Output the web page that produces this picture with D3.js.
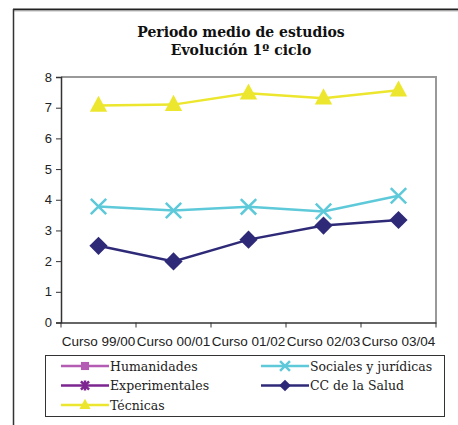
<!DOCTYPE html>
<html>
<head>
<meta charset="utf-8">
<script src="https://cdn.jsdelivr.net/npm/d3@7"></script>
<style>
  body { margin: 0; background: #fff; }
  svg { display: block; }
</style>
</head>
<body>
<svg id="chart" width="458" height="425"></svg>
<script>
// datos
const cursos = ['Curso 99/00', 'Curso 00/01', 'Curso 01/02', 'Curso 02/03', 'Curso 03/04'];
const humanidades = [];
const sociales = [3.78, 3.65, 3.77, 3.62, 4.13];
const experimentales = [];
const salud = [2.5, 1.99, 2.7, 3.16, 3.34];
const tecnicas = [7.07, 7.1, 7.47, 7.31, 7.57];
const yTicks = [0, 1, 2, 3, 4, 5, 6, 7, 8];

const series = [
  { name: 'Humanidades', values: humanidades, color: '#b45cb4', marker: 'square' },
  { name: 'Sociales y jurídicas', values: sociales, color: '#5ec9d9', marker: 'x' },
  { name: 'Experimentales', values: experimentales, color: '#7d2590', marker: 'star' },
  { name: 'CC de la Salud', values: salud, color: '#2e2a78', marker: 'diamond' },
  { name: 'Técnicas', values: tecnicas, color: '#ece72e', marker: 'triangle' }
];

const svg = d3.select('#chart');
const plotL = 61, plotR = 436, plotT = 77, plotB = 322.5;

// marco exterior (solo arriba e izquierda)
svg.append('line').attr('x1', 13).attr('x2', 458).attr('y1', 9.5).attr('y2', 9.5)
  .attr('stroke', '#222').attr('stroke-width', 2);
svg.append('line').attr('x1', 13).attr('x2', 458).attr('y1', 11).attr('y2', 11)
  .attr('stroke', '#bbb').attr('stroke-width', 1);
svg.append('line').attr('x1', 13.5).attr('x2', 13.5).attr('y1', 9).attr('y2', 425)
  .attr('stroke', '#333').attr('stroke-width', 1.5);

svg.append('text')
  .attr('x', 241).attr('y', 36.5)
  .attr('text-anchor', 'middle')
  .attr('font-family', 'DejaVu Serif')
  .attr('font-weight', 'bold')
  .attr('font-size', 14)
  .attr('fill', '#111')
  .text('Periodo medio de estudios');
svg.append('text')
  .attr('x', 241).attr('y', 55)
  .attr('text-anchor', 'middle')
  .attr('font-family', 'DejaVu Serif')
  .attr('font-weight', 'bold')
  .attr('font-size', 14)
  .attr('fill', '#111')
  .text('Evolución 1º ciclo');

const x = d3.scaleBand().domain(cursos).range([plotL, plotR]);
const y = d3.scaleLinear().domain([0, 8]).range([plotB, plotT]);

// borde gris del área de trazado
svg.append('path')
  .attr('d', `M${plotL},${plotT}H${plotR}V${plotB}`)
  .attr('fill', 'none').attr('stroke', '#999').attr('stroke-width', 2);

svg.append('g')
  .attr('transform', `translate(${plotL},0)`)
  .call(d3.axisLeft(y).tickValues(yTicks).tickSize(5).tickPadding(4).tickFormat(d3.format('d')))
  .call(g => g.selectAll('.domain').attr('stroke', '#333').attr('stroke-width', 1.5))
  .call(g => g.selectAll('.tick line').attr('stroke', '#333'))
  .call(g => g.selectAll('text').attr('font-family', 'Liberation Sans').attr('font-size', 13).attr('fill', '#222'));

const xAxis = svg.append('g')
  .attr('transform', `translate(0,${plotB})`)
  .call(d3.axisBottom(x).tickSize(0).tickPadding(14))
  .call(g => g.selectAll('.domain').attr('stroke', '#333').attr('stroke-width', 1.5))
  .call(g => g.selectAll('text').attr('font-family', 'Liberation Sans').attr('font-size', 13.5).attr('fill', '#222'));

// marcas entre categorías
xAxis.selectAll('.sep')
  .data(d3.range(cursos.length + 1))
  .join('line')
  .attr('class', 'sep')
  .attr('x1', i => plotL + i * x.step()).attr('x2', i => plotL + i * x.step())
  .attr('y1', 0).attr('y2', 5)
  .attr('stroke', '#333');

function marker(g, type, color, size) {
  const s = size;
  if (type === 'square') {
    g.append('rect').attr('x', -s * 0.45).attr('y', -s * 0.45).attr('width', s * 0.9).attr('height', s * 0.9).attr('fill', color);
  } else if (type === 'diamond') {
    g.append('path').attr('d', `M0,${-s * 0.65}L${s * 0.65},0L0,${s * 0.65}L${-s * 0.65},0Z`).attr('fill', color);
  } else if (type === 'triangle') {
    g.append('path').attr('d', `M0,${-s * 0.7}L${s * 0.62},${s * 0.45}L${-s * 0.62},${s * 0.45}Z`).attr('fill', color);
  } else if (type === 'x') {
    g.append('path').attr('d', `M${-s * 0.55},${-s * 0.55}L${s * 0.55},${s * 0.55}M${-s * 0.55},${s * 0.55}L${s * 0.55},${-s * 0.55}`)
      .attr('stroke', color).attr('stroke-width', 2.5);
  } else if (type === 'star') {
    g.append('path').attr('d', `M${-s * 0.45},${-s * 0.45}L${s * 0.45},${s * 0.45}M${-s * 0.45},${s * 0.45}L${s * 0.45},${-s * 0.45}M0,${-s * 0.55}V${s * 0.55}`)
      .attr('stroke', color).attr('stroke-width', 2.5);
  }
}

const line = d3.line()
  .x((d, i) => x(cursos[i]) + x.bandwidth() / 2)
  .y(d => y(d));

series.forEach(s => {
  if (!s.values.length) return;
  svg.append('path')
    .datum(s.values)
    .attr('d', line)
    .attr('fill', 'none')
    .attr('stroke', s.color)
    .attr('stroke-width', 2.5);
  s.values.forEach((v, i) => {
    const g = svg.append('g')
      .attr('transform', `translate(${x(cursos[i]) + x.bandwidth() / 2},${y(v)})`);
    marker(g, s.marker, s.color, 14);
  });
});

// leyenda
const legend = svg.append('g');
legend.append('rect')
  .attr('x', 45.5).attr('y', 355.5).attr('width', 399).attr('height', 61)
  .attr('fill', '#fff').attr('stroke', '#333').attr('stroke-width', 1);

const cols = [61, 261];
const rows = [366, 385.5, 405];
series.forEach((s, i) => {
  const cx = cols[i % 2], cy = rows[Math.floor(i / 2)];
  const g = legend.append('g').attr('transform', `translate(${cx},${cy})`);
  g.append('line').attr('x1', 0).attr('x2', 48).attr('y1', 0).attr('y2', 0)
    .attr('stroke', s.color).attr('stroke-width', 2.5);
  marker(g.append('g').attr('transform', 'translate(24,0)'), s.marker, s.color, 9);
  g.append('text')
    .attr('x', 49).attr('y', 4.5)
    .attr('font-family', 'DejaVu Serif')
    .attr('font-size', 12.5)
    .attr('fill', '#222')
    .text(s.name);
});
</script>
</body>
</html>
